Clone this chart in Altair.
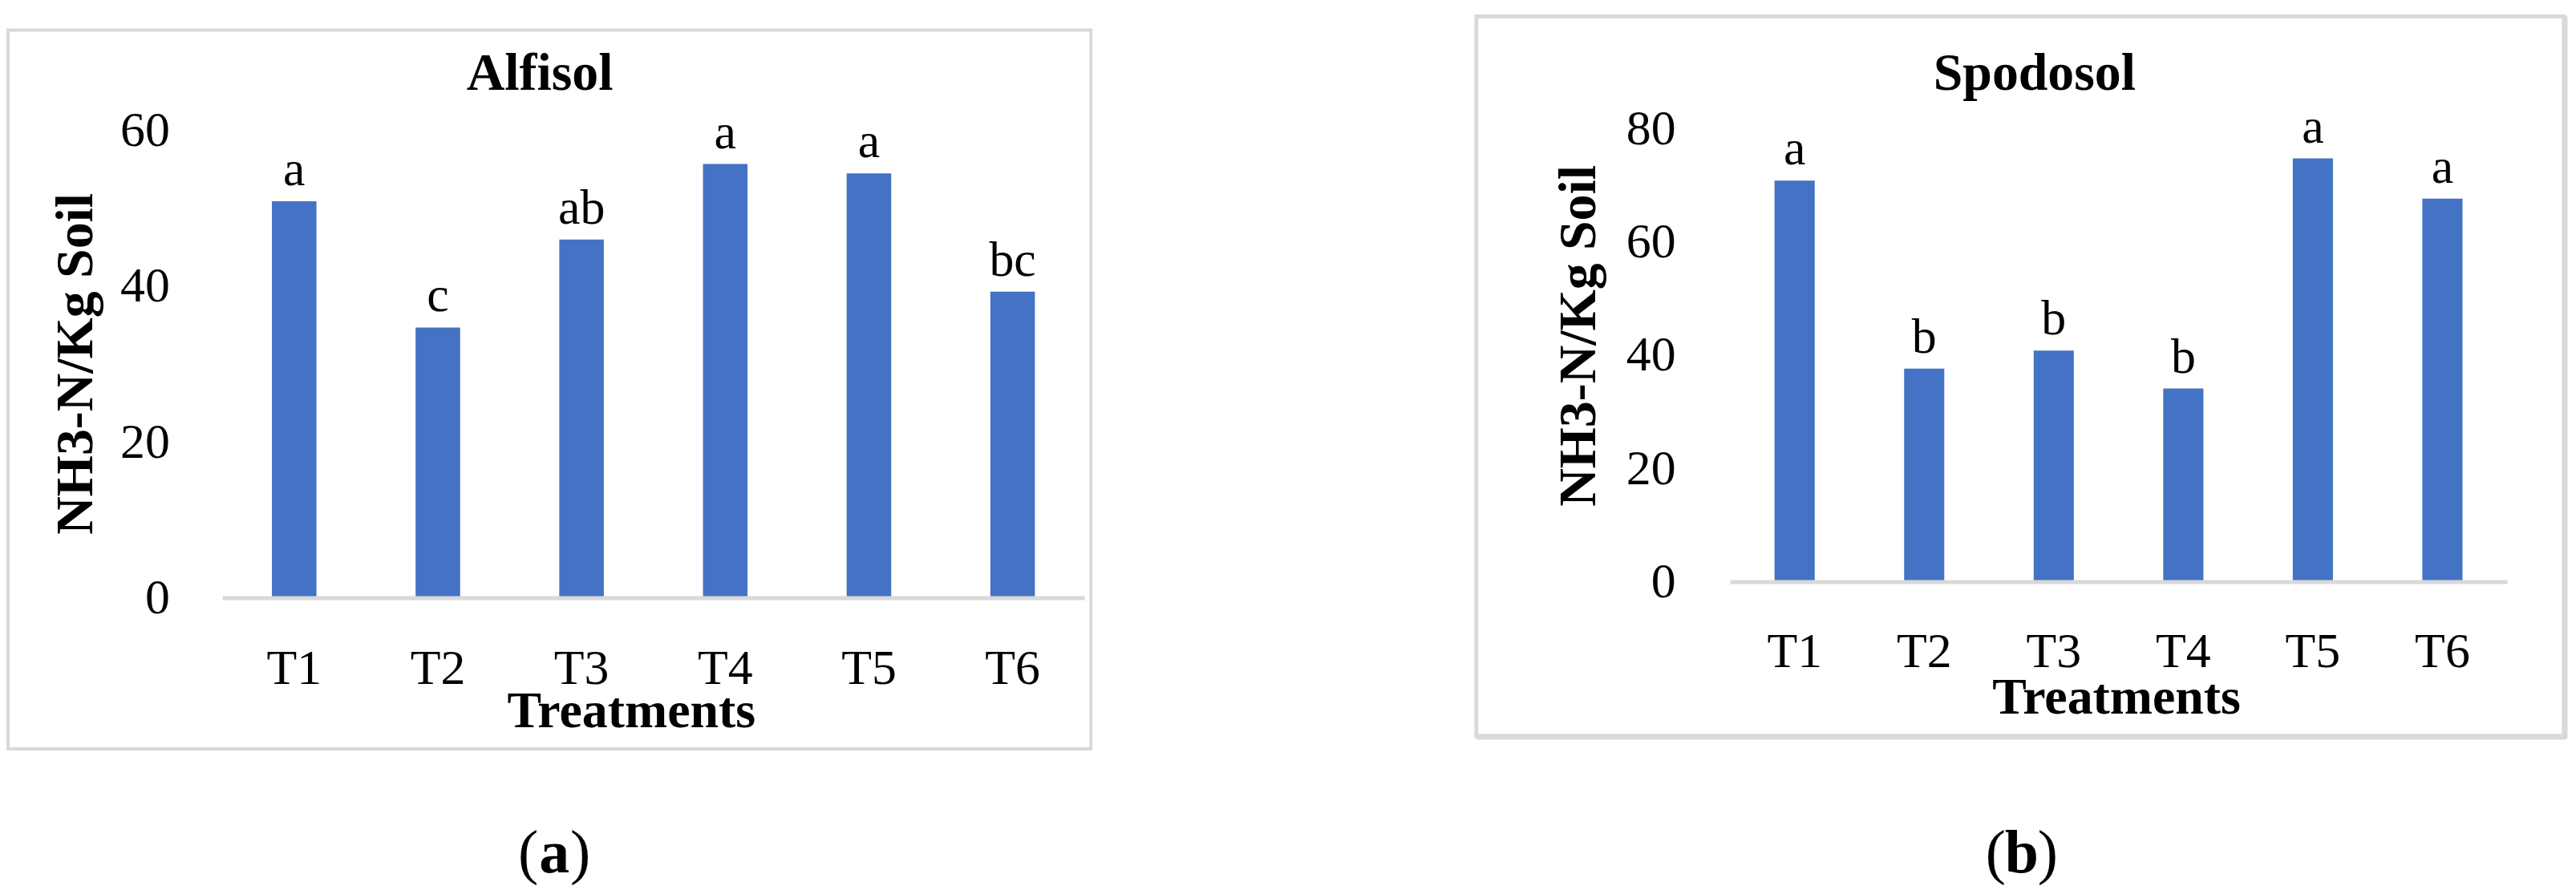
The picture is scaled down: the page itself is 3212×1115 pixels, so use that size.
import altair as alt
import pandas as pd

# ---- data ----
treatments = ["T1", "T2", "T3", "T4", "T5", "T6"]
alfisol_values = [50.9, 34.7, 46.0, 55.7, 54.5, 39.3]
alfisol_letters = ["a", "c", "ab", "a", "a", "bc"]
spodosol_values = [70.8, 37.6, 40.8, 34.1, 74.7, 67.6]
spodosol_letters = ["a", "b", "b", "b", "a", "a"]
alfisol_ticks = [0, 20, 40, 60]
spodosol_ticks = [0, 20, 40, 60, 80]

FONT = "Liberation Serif"
BLUE = "#4472C4"
BORDER = "#D9D9D9"


def panel(values, letters, ticks, dmax, W, H, title, tag, g):
    df = pd.DataFrame({"Treatment": treatments, "value": values, "letter": letters})
    one = pd.DataFrame({"k": [0]})

    x = alt.X(
        "Treatment:N", sort=treatments,
        scale=alt.Scale(paddingInner=0.69, paddingOuter=0.345),
        axis=alt.Axis(
            title="Treatments", labelAngle=0, ticks=False, tickSize=0,
            domainColor=BORDER, domainWidth=5, zindex=1,
            labelFont=FONT, labelFontSize=62, labelColor="black",
            labelPadding=g["xlp"], labelBaseline="middle",
            titleFont=FONT, titleFontSize=64, titleFontWeight="bold",
            titleColor="black", titleX=g["xtx"], titleY=g["xty"],
            titleBaseline="middle", titleAlign="center",
        ),
    )
    y = alt.Y(
        "value:Q",
        scale=alt.Scale(domain=[0, dmax], nice=False, zero=True),
        axis=alt.Axis(
            values=ticks, title="NH3-N/Kg Soil", domain=False, ticks=False,
            tickSize=0, grid=False,
            labelFont=FONT, labelFontSize=62, labelColor="black",
            labelPadding=g["ylp"],
            titleFont=FONT, titleFontSize=66, titleFontWeight="bold",
            titleColor="black", titleX=g["ytx"], titleY=g["yty"],
            titleAngle=270, titleBaseline="middle", titleAlign="center",
        ),
    )

    border = alt.Chart(one).mark_rect(
        fillOpacity=0, stroke=BORDER, strokeWidth=g["bw"]
    ).encode(
        x=alt.value(g["bx0"]), x2=alt.value(g["bx1"]),
        y=alt.value(g["by0"]), y2=alt.value(g["by1"]),
    )
    bars = alt.Chart(df).mark_bar(color=BLUE).encode(x=x, y=y)
    lab = alt.Chart(df).mark_text(
        font=FONT, fontSize=62, color="black", baseline="alphabetic", dy=-20
    ).encode(x=x, y=y, text="letter:N")
    ttl = alt.Chart(one).mark_text(
        text=title, font=FONT, fontSize=66, fontWeight="bold", color="black",
        baseline="alphabetic", align="center",
    ).encode(x=alt.value(g["tx"]), y=alt.value(g["ty"]))

    tag_l = alt.Chart(one).mark_text(
        text="(", font=FONT, fontSize=76, color="black", baseline="middle", align="right"
    ).encode(x=alt.value(g["gx"] - 20), y=alt.value(g["gy"]))
    tag_c = alt.Chart(one).mark_text(
        text=tag, font=FONT, fontSize=76, fontWeight="bold", color="black",
        baseline="middle", align="center"
    ).encode(x=alt.value(g["gx"]), y=alt.value(g["gy"]))
    tag_r = alt.Chart(one).mark_text(
        text=")", font=FONT, fontSize=76, color="black", baseline="middle", align="left"
    ).encode(x=alt.value(g["gx"] + 20), y=alt.value(g["gy"]))

    layers = [border, bars, lab, ttl, tag_l, tag_c, tag_r]
    if g.get("shadow"):
        sh_b = alt.Chart(one).mark_rule(color=BORDER, strokeWidth=7).encode(
            x=alt.value(g["bx0"]), x2=alt.value(g["bx1"] + 3),
            y=alt.value(g["by1"] + 1))
        sh_r = alt.Chart(one).mark_rule(color=BORDER, strokeWidth=7).encode(
            x=alt.value(g["bx1"] + 1), y=alt.value(g["by0"]),
            y2=alt.value(g["by1"] + 3))
        layers += [sh_b, sh_r]
    return alt.layer(*layers).properties(width=W, height=H)


geom_a = dict(xlp=88, xtx=511, xty=142, ylp=66, ytx=-183, yty=297,
              bw=4, bx0=-268, bx1=1086, by0=-120, by1=779,
              tx=397, ty=-45, gx=415, gy=910)
geom_b = dict(xlp=87, xtx=483, xty=145, ylp=68, ytx=-189, yty=262,
              bw=5, bx0=-317, bx1=1043, by0=-137, by1=763,
              tx=381, ty=-45, gx=365, gy=910, shadow=True)

a = panel(alfisol_values, alfisol_letters, alfisol_ticks, 590 / 9.74,
          1078, 590, "Alfisol", "a", geom_a)
b = panel(spodosol_values, spodosol_letters, spodosol_ticks, 570 / 7.0875,
          972, 570, "Spodosol", "b", geom_b)

chart = alt.hconcat(a, b, spacing=476).properties(
    padding={"left": 0, "top": 7, "right": 0, "bottom": 0},
    background="white",
).configure_view(strokeWidth=0)

chart.save("out.html", embed_options={"renderer": "svg", "actions": False})
